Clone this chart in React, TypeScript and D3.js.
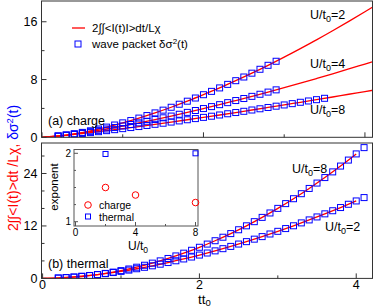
import * as d3 from "d3";

// (a) charge: wave packet points and integrated current curves
const timesA = [0.2, 0.3, 0.4, 0.5, 0.6, 0.7, 0.8, 0.9, 1.0, 1.1, 1.2, 1.3, 1.4, 1.5, 1.6, 1.7, 1.8, 1.9, 2.0, 2.1, 2.2, 2.3, 2.4, 2.5, 2.6, 2.7, 2.8, 2.9];
const packetU2a = [0.16, 0.31, 0.48, 0.68, 0.9, 1.15, 1.41, 1.7, 2.0, 2.32, 2.66, 3.01, 3.38, 3.76, 4.16, 4.58, 5.0, 5.44, 5.9, 6.36, 6.84, 7.33, 7.84, 8.35, 8.88, 9.42, 9.97, 10.53];
const packetU4a = [0.18, 0.31, 0.45, 0.61, 0.78, 0.96, 1.15, 1.35, 1.56, 1.77, 2.0, 2.22, 2.46, 2.7, 2.94, 3.19, 3.45, 3.71, 3.98, 4.25, 4.52, 4.8, 5.09, 5.37, 5.67, 5.96, 6.26, 6.57];
const timesA8 = [0.2, 0.3, 0.4, 0.5, 0.6, 0.7, 0.8, 0.9, 1.0, 1.1, 1.2, 1.3, 1.4, 1.5, 1.6, 1.7, 1.8, 1.9, 2.0, 2.1, 2.2, 2.3, 2.4, 2.5, 2.6, 2.7, 2.8, 2.9, 3.0, 3.1, 3.2, 3.3, 3.4, 3.5];
const packetU8a = [0.17, 0.28, 0.4, 0.52, 0.65, 0.78, 0.92, 1.06, 1.2, 1.35, 1.49, 1.64, 1.8, 1.95, 2.11, 2.27, 2.43, 2.59, 2.76, 2.92, 3.09, 3.26, 3.43, 3.6, 3.78, 3.95, 4.13, 4.31, 4.48, 4.66, 4.85, 5.03, 5.21, 5.4];
const lineTA = [0, 0.2, 0.4, 0.6, 0.8, 1.0, 1.2, 1.4, 1.6, 1.8, 2.0, 2.2, 2.4, 2.6, 2.8, 3.0, 3.2, 3.4, 3.6, 3.8, 4.0, 4.1];
const chargeU2 = [0, 0.16, 0.48, 0.9, 1.41, 2.0, 2.66, 3.38, 4.16, 5.0, 5.9, 6.84, 7.84, 8.88, 9.97, 11.1, 12.28, 13.49, 14.75, 16.05, 17.39, 18.07];
const chargeU4 = [0, 0.18, 0.45, 0.78, 1.15, 1.56, 2.0, 2.46, 2.94, 3.45, 3.98, 4.52, 5.09, 5.67, 6.26, 6.87, 7.5, 8.14, 8.79, 9.46, 10.14, 10.48];
const chargeU8 = [0, 0.17, 0.4, 0.65, 0.92, 1.2, 1.49, 1.8, 2.11, 2.43, 2.76, 3.09, 3.43, 3.78, 4.13, 4.48, 4.85, 5.21, 5.58, 5.96, 6.33, 6.52];

// (b) thermal
const timesB = [0.2, 0.3, 0.4, 0.5, 0.6, 0.7, 0.8, 0.9, 1.0, 1.1, 1.2, 1.3, 1.4, 1.5, 1.6, 1.7, 1.8, 1.9, 2.0, 2.1, 2.2, 2.3, 2.4, 2.5, 2.6, 2.7, 2.8, 2.9, 3.0, 3.1, 3.2, 3.3, 3.4, 3.5, 3.6, 3.7, 3.8, 3.9, 4.0, 4.1];
const packetU8b = [0.07, 0.16, 0.28, 0.45, 0.64, 0.87, 1.14, 1.44, 1.78, 2.15, 2.56, 3.01, 3.49, 4.01, 4.56, 5.14, 5.77, 6.43, 7.12, 7.85, 8.62, 9.42, 10.25, 11.13, 12.03, 12.98, 13.96, 14.97, 16.02, 17.11, 18.23, 19.38, 20.58, 21.81, 23.07, 24.37, 25.7, 27.07, 28.48, 29.92];
const packetU2b = [0.1, 0.2, 0.33, 0.49, 0.67, 0.87, 1.09, 1.34, 1.61, 1.9, 2.21, 2.54, 2.88, 3.25, 3.63, 4.03, 4.45, 4.89, 5.34, 5.81, 6.3, 6.8, 7.32, 7.86, 8.41, 8.98, 9.56, 10.16, 10.77, 11.4, 12.04, 12.7, 13.38, 14.06, 14.77, 15.48, 16.21, 16.96, 17.72, 18.49];
const lineTB = [0, 0.2, 0.4, 0.6, 0.8, 1.0, 1.2, 1.4, 1.6, 1.8, 2.0, 2.2, 2.4, 2.6, 2.8, 3.0, 3.2, 3.4, 3.6, 3.8, 4.0];
const thermalU8 = [0, 0.07, 0.28, 0.64, 1.14, 1.78, 2.56, 3.49, 4.56, 5.77, 7.12, 8.62, 10.25, 12.03, 13.96, 16.02, 18.23, 20.58, 23.07, 25.7, 28.48];
const thermalU2 = [0, 0.1, 0.33, 0.67, 1.09, 1.61, 2.21, 2.88, 3.63, 4.45, 5.34, 6.3, 7.32, 8.41, 9.56, 10.77, 12.04, 13.38, 14.77, 16.21, 17.72];

// inset: exponent vs U/t0
const chargeU = [2, 4, 8];
const chargeExp = [1.5, 1.39, 1.28];
const thermalU = [2, 8];
const thermalExp = [1.99, 2.0];

const RED = "#ff0000";
const BLUE = "#0000ff";
const FONT = "Liberation Sans, Arial, sans-serif";

const xA = d3.scaleLinear().domain([0, 4.1]).range([42, 373]);
const yA = d3.scaleLinear().domain([0, 19]).range([137.3, 0.1]);
const xB = d3.scaleLinear().domain([0, 4.2]).range([42.6, 371.9]);
const yB = d3.scaleLinear().domain([0, 31]).range([278.4, 142.9]);
const xI = d3.scaleLinear().domain([0, 8]).range([75.5, 195.5]);
const yI = d3.scaleLinear().domain([1, 2]).range([221.7, 153.3]);

function Line({ t, v, x, y }: { t: number[]; v: number[]; x: any; y: any }) {
  const gen = d3
    .line<number>()
    .x((d, i) => x(t[i]))
    .y((d) => y(d))
    .curve(d3.curveMonotoneX);
  return <path d={gen(v) ?? ""} fill="none" stroke={RED} strokeWidth={1.3} />;
}

function Squares({ t, v, x, y, s = 6 }: { t: number[]; v: number[]; x: any; y: any; s?: number }) {
  return (
    <g>
      {v.map((d, i) => (
        <rect
          key={i}
          x={x(t[i]) - s / 2}
          y={y(d) - s / 2}
          width={s}
          height={s}
          fill="none"
          stroke={BLUE}
          strokeWidth={1}
        />
      ))}
    </g>
  );
}

function ULabel({ x, y, u }: { x: number; y: number; u: number }) {
  return (
    <text x={x} y={y} fontSize={12.5}>
      U/t<tspan dy={3} fontSize={9}>0</tspan>
      <tspan dy={-3}>={u}</tspan>
    </text>
  );
}

function Panel({
  x,
  y,
  xMaj,
  xMin,
  yMaj,
  yMin,
  top,
  bottom,
  left,
  right,
  xLabels,
}: any) {
  return (
    <g>
      <rect x={left} y={top} width={right - left} height={bottom - top} fill="none" stroke="#333" strokeWidth={1} />
      {xMaj.map((d: number) => (
        <line key={"xM" + d} x1={x(d)} x2={x(d)} y1={bottom} y2={bottom - 5} stroke="#333" />
      ))}
      {xMin.map((d: number) => (
        <line key={"xm" + d} x1={x(d)} x2={x(d)} y1={bottom} y2={bottom - 3} stroke="#333" />
      ))}
      {yMaj.map((d: number) => (
        <line key={"yM" + d} x1={left} x2={left + 5} y1={y(d)} y2={y(d)} stroke="#333" />
      ))}
      {yMin.map((d: number) => (
        <line key={"ym" + d} x1={left} x2={left + 3} y1={y(d)} y2={y(d)} stroke="#333" />
      ))}
      {yMaj.map((d: number) => (
        <text key={"yl" + d} x={left - 4} y={y(d) + 4.5} fontSize={12.5} textAnchor="end">
          {d}
        </text>
      ))}
      {xLabels &&
        xMaj.map((d: number) => (
          <text key={"xl" + d} x={x(d)} y={bottom + 10.5} fontSize={12.5} textAnchor="middle">
            {d}
          </text>
        ))}
    </g>
  );
}

export default function App() {
  return (
    <svg
      width={374}
      height={307}
      viewBox="0 0 374 307"
      style={{ position: "absolute", left: 0, top: 0, background: "#fff" }}
      fontFamily={FONT}
    >
      <defs>
        <clipPath id="clipA">
          <rect x={41.5} y={1} width={331} height={136.3} />
        </clipPath>
        <clipPath id="clipB">
          <rect x={41.5} y={143} width={331} height={135.4} />
        </clipPath>
      </defs>

      {/* (a) charge */}
      <g clipPath="url(#clipA)">
        <Line t={lineTA} v={chargeU2} x={xA} y={yA} />
        <Line t={lineTA} v={chargeU4} x={xA} y={yA} />
        <Line t={lineTA} v={chargeU8} x={xA} y={yA} />
        <Squares t={timesA} v={packetU2a} x={xA} y={yA} />
        <Squares t={timesA} v={packetU4a} x={xA} y={yA} />
        <Squares t={timesA8} v={packetU8a} x={xA} y={yA} />
      </g>
      <Panel
        x={xA}
        y={yA}
        xMaj={[0, 2, 4]}
        xMin={[1, 3]}
        yMaj={[0, 8, 16]}
        yMin={[4, 12]}
        top={1}
        bottom={137.3}
        left={41.5}
        right={372.5}
        xLabels={false}
      />
      <line x1={72} x2={85} y1={28} y2={28} stroke={RED} strokeWidth={1.3} />
      <text x={92} y={32} fontSize={11.5}>2∫∫&lt;I(t)I&gt;dt/Lχ</text>
      <rect x={75} y={41} width={6} height={6} fill="none" stroke={BLUE} />
      <text x={92} y={48} fontSize={11.5}>
        wave packet δσ<tspan dy={-4} fontSize={8}>2</tspan>
        <tspan dy={4}>(t)</tspan>
      </text>
      <text x={48} y={125} fontSize={12.5}>(a) charge</text>
      <ULabel x={310} y={19} u={2} />
      <ULabel x={310} y={68} u={4} />
      <ULabel x={310} y={114} u={8} />

      {/* (b) thermal */}
      <g clipPath="url(#clipB)">
        <Line t={lineTB} v={thermalU8} x={xB} y={yB} />
        <Line t={lineTB} v={thermalU2} x={xB} y={yB} />
        <Squares t={timesB} v={packetU8b} x={xB} y={yB} />
        <Squares t={timesB} v={packetU2b} x={xB} y={yB} />
      </g>
      <Panel
        x={xB}
        y={yB}
        xMaj={[0, 2, 4]}
        xMin={[1, 3]}
        yMaj={[0, 12, 24]}
        yMin={[4, 8, 16, 20, 28]}
        top={143}
        bottom={278.4}
        left={41.5}
        right={372.5}
        xLabels={true}
      />
      <text x={48} y={268} fontSize={12.5}>(b) thermal</text>
      <ULabel x={292} y={173} u={8} />
      <ULabel x={325} y={231} u={2} />
      <text x={198} y={303.5} fontSize={13.5}>
        tt<tspan dy={2.5} fontSize={9.5}>0</tspan>
      </text>

      {/* inset */}
      <rect x={74} y={149.5} width={124} height={76.5} fill="#fff" stroke="#555" strokeWidth={1} />
      {[0, 4, 8].map((d) => (
        <g key={"ix" + d}>
          <line x1={xI(d)} x2={xI(d)} y1={226} y2={222} stroke="#555" />
          <text x={xI(d)} y={236} fontSize={10} textAnchor="middle">{d}</text>
        </g>
      ))}
      {[2, 6].map((d) => (
        <line key={"ixm" + d} x1={xI(d)} x2={xI(d)} y1={226} y2={224} stroke="#555" />
      ))}
      {[1, 2].map((d) => (
        <g key={"iy" + d}>
          <line x1={74} x2={78} y1={yI(d)} y2={yI(d)} stroke="#555" />
          <text x={71} y={yI(d) + 3.5} fontSize={10} textAnchor="end">{d}</text>
        </g>
      ))}
      {[1.25, 1.5, 1.75].map((d) => (
        <line key={"iym" + d} x1={74} x2={76} y1={yI(d)} y2={yI(d)} stroke="#555" />
      ))}
      {chargeExp.map((d, i) => (
        <circle key={"ce" + i} cx={xI(chargeU[i])} cy={yI(d)} r={3.3} fill="none" stroke={RED} />
      ))}
      {thermalExp.map((d, i) => (
        <rect key={"te" + i} x={xI(thermalU[i]) - 2.5} y={yI(d) - 2.5} width={5} height={5} fill="none" stroke={BLUE} />
      ))}
      <circle cx={88} cy={205} r={3.3} fill="none" stroke={RED} />
      <text x={99} y={209} fontSize={10.5}>charge</text>
      <rect x={85.5} y={214} width={5} height={5} fill="none" stroke={BLUE} />
      <text x={99} y={220.5} fontSize={10.5}>thermal</text>
      <text transform="translate(58,187) rotate(-90)" fontSize={11.5} textAnchor="middle">exponent</text>
      <text x={128} y={250} fontSize={12}>
        U/t<tspan dy={3} fontSize={8.5}>0</tspan>
      </text>

      {/* shared y label */}
      <text transform="translate(18,168) rotate(-90)" fontSize={14} textAnchor="middle">
        <tspan fill={RED}>2∫∫&lt;I(t)&gt;dt /Lχ, </tspan>
        <tspan fill={BLUE}>δσ</tspan>
        <tspan fill={BLUE} dy={-5} fontSize={9.5}>2</tspan>
        <tspan fill={BLUE} dy={5}>(t)</tspan>
      </text>
    </svg>
  );
}
